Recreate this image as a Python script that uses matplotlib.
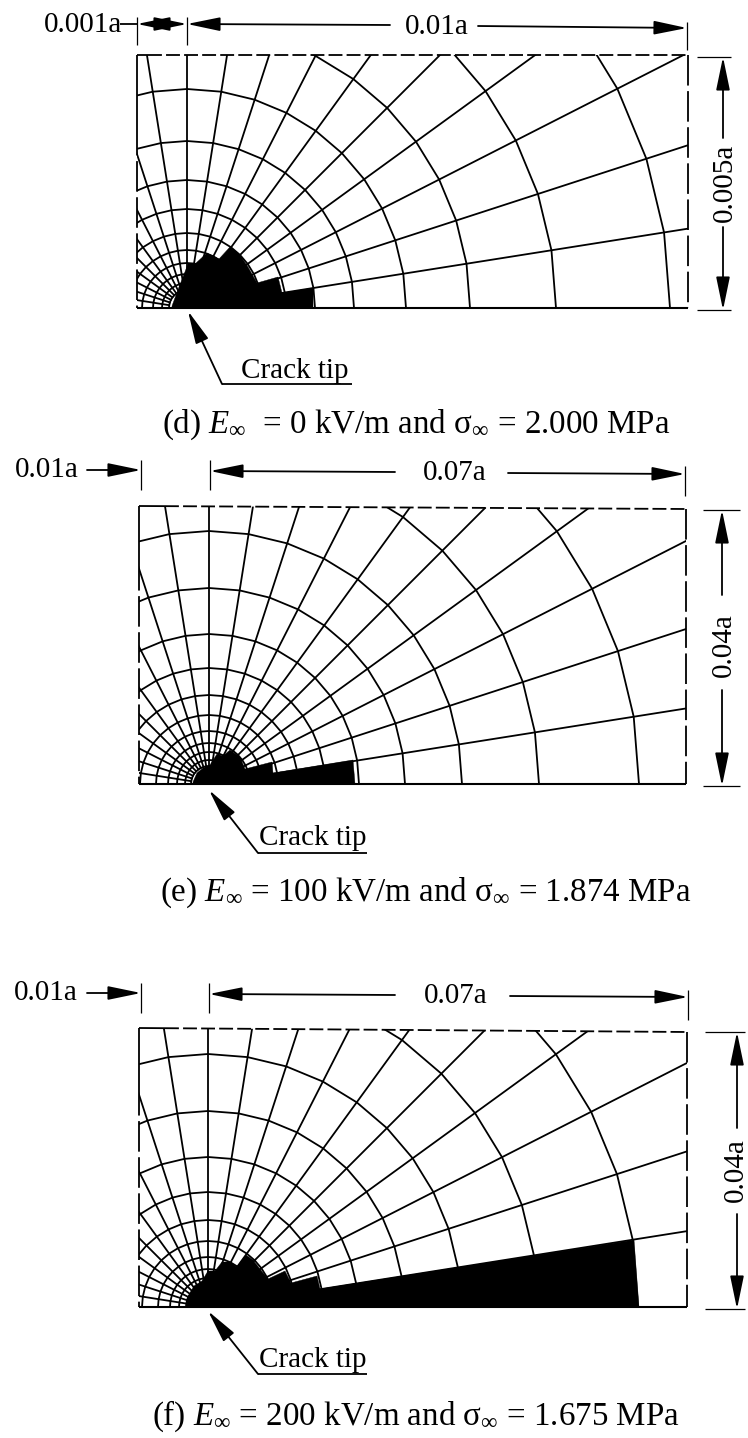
import numpy as np
import matplotlib
matplotlib.use("Agg")
import matplotlib.pyplot as plt
from matplotlib.patches import Polygon

plt.rcParams['font.family'] = ['Liberation Serif', 'DejaVu Serif']
plt.rcParams['mathtext.fontset'] = 'custom'
plt.rcParams['mathtext.rm'] = 'Liberation Serif'
plt.rcParams['mathtext.it'] = 'Liberation Serif:italic'
plt.rcParams['mathtext.bf'] = 'Liberation Serif:bold'
plt.rcParams['lines.scale_dashes'] = False

# spoke directions of the mesh, degrees from the crack line
spokes = [9, 18, 27, 36, 45, 54, 63, 72, 81, 90, 99, 108, 117, 126, 135, 144, 153, 162, 171]

rings_d = [483, 369, 283, 219, 167, 128, 99, 75, 58, 45, 34, 25, 18]
rings_e = [430, 330, 253, 196, 150, 116, 89, 69, 53, 41, 32, 24, 18]
rings_f = [430, 330, 253, 196, 150, 115, 87, 66, 50, 38, 29, 22, 16]

# black zone outlines, relative to the crack tip
zone_d_x = [126, 126, 95, 91, 70, 61, 53, 43, 32, 20, 8, 1, -4, -8, -15, -15]
zone_d_y = [0, 20, 15, 31, 25, 41, 53, 61, 49, 55, 44, 44, 31, 21, 2, 0]
zone_e_x = [146, 144, 64, 63, 36, 31, 21, 14, 8, 1, -6, -12, -16, -16]
zone_e_y = [0, 24, 11, 22, 15, 27, 34, 28, 30, 19, 16, 11, 2, 0]
zone_f_x = [431, 426, 112, 109, 83, 77, 60, 52, 45, 38, 29, 22, 14, 7, 0, -6, -14, -21, -21]
zone_f_y = [0, 67, 18, 31, 24, 36, 28, 38, 47, 52, 40, 45, 45, 36, 36, 26, 21, 9, 0]

cap_d = r"(d) $\mathit{E}_{\infty}$  = 0 kV/m and σ$_{\infty}$ = 2.000 MPa"
cap_e = r"(e) $\mathit{E}_{\infty}$ = 100 kV/m and σ$_{\infty}$ = 1.874 MPa"
cap_f = r"(f) $\mathit{E}_{\infty}$ = 200 kV/m and σ$_{\infty}$ = 1.675 MPa"

LW = 1.3
FS = 21
CAP_FS = 23.8

fig = plt.figure(figsize=(7.48, 14.38), dpi=100)
ax = fig.add_axes([0, 0, 1, 1])
ax.set_xlim(0, 748)
ax.set_ylim(1438, 0)
ax.axis('off')


def arrow(x0, y0, x1, y1):
    # line from (x0,y0) with a long thin head at (x1,y1)
    ax.annotate('', xy=(x1, y1), xytext=(x0, y0),
                arrowprops=dict(arrowstyle='-|>,head_length=1.45,head_width=0.3', mutation_scale=14,
                                color='k', lw=LW, shrinkA=0, shrinkB=0))


def line(xs, ys, lw=LW, **kw):
    ax.plot(xs, ys, color='k', lw=lw, solid_capstyle='butt', **kw)


def mesh(tipx, left, right, top_l, top_r, bottom, rings, zone_x, zone_y, solid_x, solid_y):
    clip = Polygon([(left, top_l), (right, top_r), (right, bottom), (left, bottom)], transform=ax.transData)
    rmin = min(rings)
    for a in spokes:
        t = np.radians(a)
        l, = ax.plot([tipx + rmin * np.cos(t), tipx + 700 * np.cos(t)],
                     [bottom - rmin * np.sin(t), bottom - 700 * np.sin(t)], color='k', lw=LW)
        l.set_clip_path(clip)
    t = np.radians([0] + spokes + [180])
    for r in rings:
        l, = ax.plot(tipx + r * np.cos(t), bottom - r * np.sin(t), color='k', lw=LW)
        l.set_clip_path(clip)
    # dashed outer boundary, solid crack line
    line([solid_x, right], [top_l + (top_r - top_l) * (solid_x - left) / (right - left), top_r], ls=(0, (10, 3)))
    line([right, right], [top_r, bottom], ls=(0, (22, 4)))
    line([left, left], [solid_y, bottom], ls=(0, (22, 4)))
    line([left, solid_x], [top_l, top_l + (top_r - top_l) * (solid_x - left) / (right - left)])
    line([left, left], [top_l, solid_y])
    line([left, right], [bottom, bottom], lw=1.5)
    ax.add_patch(Polygon(np.column_stack([tipx + np.array(zone_x), bottom - np.array(zone_y)]),
                         closed=True, fc='k', ec='k', lw=0.3, zorder=4))


# panel d
mesh(187, 137, 688, 55, 55, 308, rings_d, zone_d_x, zone_d_y, 148, 125)
ax.text(44, 25, "0.001a", fontsize=FS, va='center', ha='left')
line([120, 137], [24, 24])
line([137, 137], [17, 45], lw=0.9)
line([187, 187], [17, 45], lw=0.9)
line([687, 687], [22, 50], lw=0.9)
arrow(162, 24, 137, 24)
arrow(162, 24, 187, 24)
arrow(390, 25, 187, 24)
ax.text(437, 27, "0.01a", fontsize=FS, va='center', ha='center')
arrow(478, 26, 687, 28)
line([697, 731], [57, 57], lw=0.9)
line([697, 731], [310, 310], lw=0.9)
arrow(723, 138, 723, 57)
arrow(723, 227, 723, 310)
ax.text(725, 183, "0.005a", fontsize=FS, rotation=90, va='center', ha='center')
arrow(222, 384, 188, 311)
line([222, 352], [384, 384])
ax.text(295, 371, "Crack tip", fontsize=FS, va='center', ha='center')
ax.text(416, 425, cap_d, fontsize=CAP_FS, va='center', ha='center')

# panel e
mesh(209, 139, 686, 506, 509, 784, rings_e, zone_e_x, zone_e_y, 165, 560)
ax.text(15, 470, "0.01a", fontsize=FS, va='center', ha='left')
arrow(87, 470, 141, 470)
line([141, 141], [460, 490], lw=0.9)
line([210, 210], [460, 490], lw=0.9)
line([685, 685], [466, 496], lw=0.9)
arrow(395, 472, 210, 471)
ax.text(455, 473, "0.07a", fontsize=FS, va='center', ha='center')
arrow(508, 473, 685, 474)
line([703, 740], [510, 510], lw=0.9)
line([703, 740], [786, 786], lw=0.9)
arrow(722, 595, 722, 510)
arrow(722, 690, 722, 786)
ax.text(724, 645, "0.04a", fontsize=FS, rotation=90, va='center', ha='center')
arrow(258, 853, 209, 790)
line([258, 367], [853, 853])
ax.text(313, 838, "Crack tip", fontsize=FS, va='center', ha='center')
ax.text(426, 893, cap_e, fontsize=CAP_FS, va='center', ha='center')

# panel f
mesh(208, 139, 687, 1028, 1032, 1307, rings_f, zone_f_x, zone_f_y, 165, 1085)
ax.text(14, 993, "0.01a", fontsize=FS, va='center', ha='left')
arrow(87, 993, 141, 993)
line([141, 141], [983, 1013], lw=0.9)
line([209, 209], [983, 1013], lw=0.9)
line([688, 688], [990, 1020], lw=0.9)
arrow(395, 995, 209, 994)
ax.text(456, 996, "0.07a", fontsize=FS, va='center', ha='center')
arrow(510, 996, 688, 997)
line([705, 745], [1032, 1032], lw=0.9)
line([705, 745], [1309, 1309], lw=0.9)
arrow(737, 1128, 737, 1032)
arrow(737, 1214, 737, 1309)
ax.text(736, 1170, "0.04a", fontsize=FS, rotation=90, va='center', ha='center')
arrow(258, 1374, 208, 1311)
line([258, 367], [1374, 1374])
ax.text(313, 1360, "Crack tip", fontsize=FS, va='center', ha='center')
ax.text(416, 1416, cap_f, fontsize=CAP_FS, va='center', ha='center')

fig.savefig("out.png", dpi=100)
